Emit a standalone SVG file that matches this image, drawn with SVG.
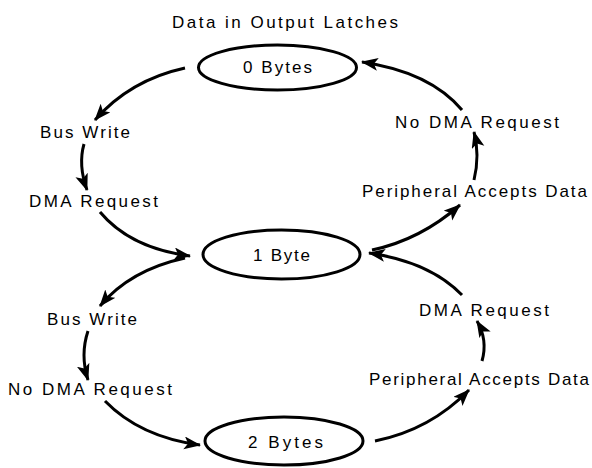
<svg xmlns="http://www.w3.org/2000/svg" width="592" height="468" viewBox="0 0 592 468">
<style>
text{font-family:"Liberation Sans",Arial,Helvetica,sans-serif;font-size:17px;fill:#000}
.st{fill:none;stroke:#000;stroke-width:3}
.cn{fill:none;stroke:#000;stroke-width:3;marker-end:url(#ah)}
</style>
<defs>
<marker id="ah" markerUnits="userSpaceOnUse" markerWidth="20" markerHeight="14" refX="16" refY="6.5" orient="auto">
<path d="M0,0 L17,6.5 L0,13 L4,6.5 z" fill="#000"/>
</marker>
</defs>
<rect width="592" height="468" fill="#fff"/>
<text x="172" y="28" textLength="226" lengthAdjust="spacing">Data in Output Latches</text>
<g id="s0">
<ellipse class="st" cx="277.5" cy="67.5" rx="79" ry="22.5"/>
<text x="243" y="72.5" textLength="69" lengthAdjust="spacing">0 Bytes</text>
</g>
<g id="s1">
<ellipse class="st" cx="281.5" cy="254.5" rx="78.5" ry="24.5"/>
<text x="253" y="260.5" textLength="57" lengthAdjust="spacing">1 Byte</text>
</g>
<g id="s2">
<ellipse class="st" cx="284" cy="441" rx="79" ry="24"/>
<text x="248" y="448" textLength="75" lengthAdjust="spacing">2 Bytes</text>
</g>
<g id="labels">
<text x="40" y="138" textLength="90" lengthAdjust="spacing">Bus Write</text>
<text x="29" y="207" textLength="129" lengthAdjust="spacing">DMA Request</text>
<text x="47" y="325" textLength="90" lengthAdjust="spacing">Bus Write</text>
<text x="8" y="395" textLength="164" lengthAdjust="spacing">No DMA Request</text>
<text x="395" y="128" textLength="164" lengthAdjust="spacing">No DMA Request</text>
<text x="362" y="197" textLength="225" lengthAdjust="spacing">Peripheral Accepts Data</text>
<text x="419" y="316" textLength="130" lengthAdjust="spacing">DMA Request</text>
<text x="369" y="385" textLength="220" lengthAdjust="spacing">Peripheral Accepts Data</text>
</g>
<g id="connectors">
<path class="cn" d="M185,68 Q130,80 95,120"/>
<path class="cn" d="M84,144 Q78,165 87,190"/>
<path class="cn" d="M100,212 Q130,248 190,256"/>
<path class="cn" d="M185,258 Q130,270 100,306"/>
<path class="cn" d="M88,331 Q80,355 88,380"/>
<path class="cn" d="M105,401 Q140,437 200,445"/>
<path class="cn" d="M375,441 Q430,430 469,390"/>
<path class="cn" d="M482,361 Q488,340 477,321"/>
<path class="cn" d="M462,295 Q430,262 369,253"/>
<path class="cn" d="M372,250 Q420,240 460,205"/>
<path class="cn" d="M474,180 Q480,155 474,132"/>
<path class="cn" d="M462,110 Q430,72 362,62"/>
</g>
</svg>
